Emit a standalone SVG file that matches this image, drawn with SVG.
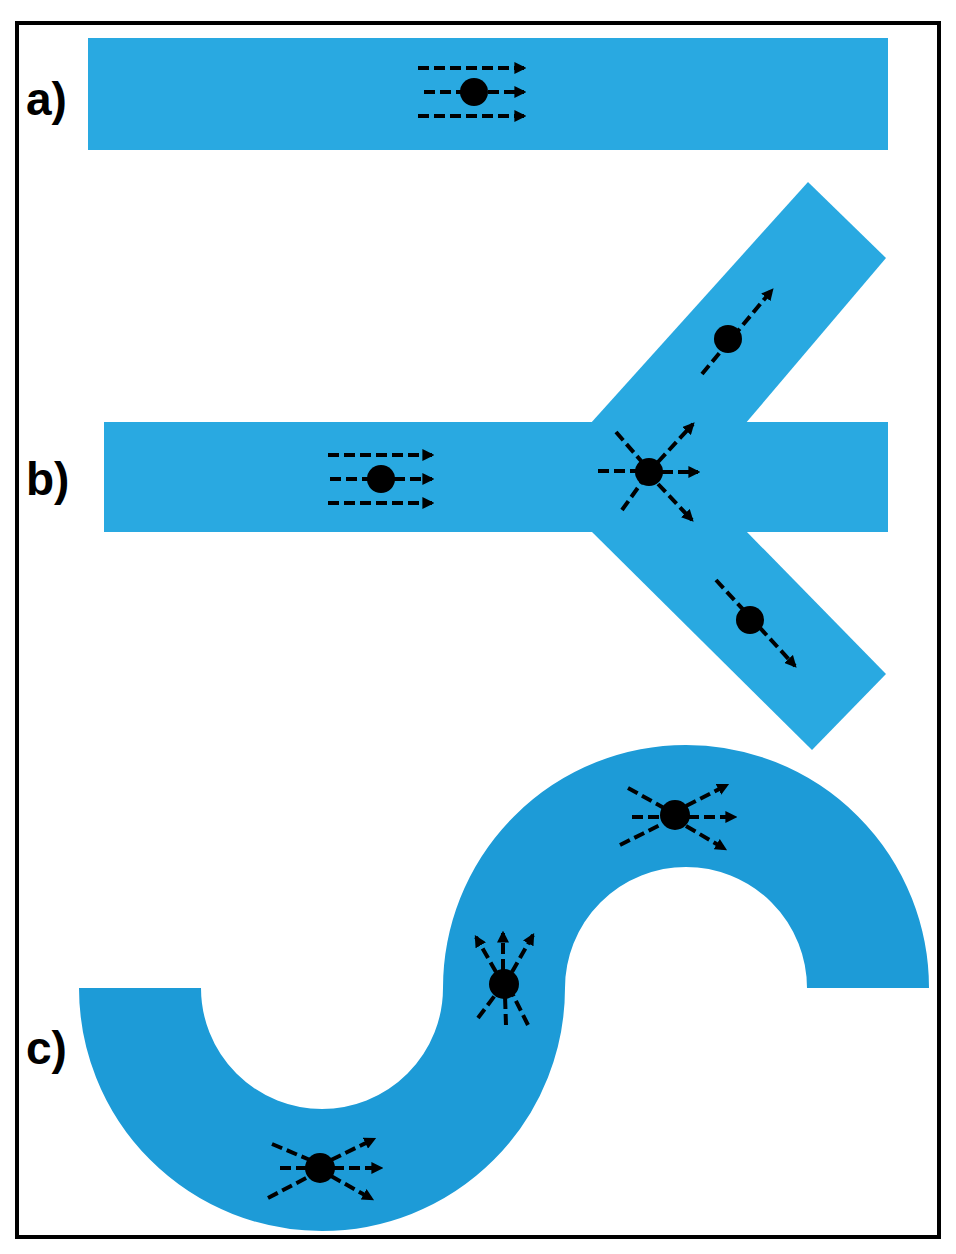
<svg xmlns="http://www.w3.org/2000/svg" width="956" height="1254" viewBox="0 0 956 1254">
<defs>
<marker id="ah" viewBox="0 0 10 10" refX="8" refY="5" markerWidth="3" markerHeight="3" orient="auto" markerUnits="strokeWidth"><path d="M0,0 L10,5 L0,10 z" fill="#000"/></marker>
<style>
.ch{fill:#29a9e1}
.d{stroke:#000;stroke-width:4;stroke-dasharray:11 5;fill:none}
.a{marker-end:url(#ah)}
.lbl{font-family:"Liberation Sans",Arial,sans-serif;font-weight:bold;font-size:46px;fill:#000}
</style>
</defs>
<rect width="956" height="1254" fill="#fff"/>
<rect x="17" y="23" width="922" height="1214" fill="none" stroke="#000" stroke-width="4"/>
<text class="lbl" x="26" y="115">a)</text>
<text class="lbl" x="26" y="495">b)</text>
<text class="lbl" x="26" y="1064">c)</text>
<g id="channel-a"><rect class="ch" x="88" y="38" width="800" height="112"/></g>
<g id="channel-b">
<rect class="ch" x="104" y="422" width="784" height="110"/>
<polygon class="ch" points="590,424 808,182 886,258 745,424"/>
<polygon class="ch" points="590,530 812,750 886,674 745,530"/>
</g>
<g id="channel-c"><path d="M140,988 A182,182 0 0 0 504,988 A182,182 0 0 1 868,988" fill="none" stroke="#1d9bd7" stroke-width="122"/></g>
<g id="particles">
<circle cx="474" cy="92" r="14"/>
<line class="d a" x1="418" y1="68" x2="524" y2="68"/>
<line class="d a" x1="424" y1="92" x2="524" y2="92"/>
<line class="d a" x1="418" y1="116" x2="524" y2="116"/>
<circle cx="381" cy="479" r="14"/>
<line class="d a" x1="328" y1="455" x2="432" y2="455"/>
<line class="d a" x1="330" y1="479" x2="432" y2="479"/>
<line class="d a" x1="328" y1="503" x2="432" y2="503"/>
<circle cx="649" cy="472" r="14"/>
<line class="d" x1="598" y1="471" x2="640" y2="471"/>
<line class="d" x1="616" y1="432" x2="642" y2="462"/>
<line class="d" x1="622" y1="510" x2="642" y2="482"/>
<line class="d a" x1="658" y1="462" x2="693" y2="424"/>
<line class="d a" x1="662" y1="472" x2="698" y2="472"/>
<line class="d a" x1="658" y1="484" x2="692" y2="520"/>
<circle cx="728" cy="339" r="14"/>
<line class="d a" x1="702" y1="374" x2="772" y2="290"/>
<circle cx="750" cy="620" r="14"/>
<line class="d a" x1="716" y1="580" x2="795" y2="666"/>
<circle cx="675" cy="815" r="15"/>
<line class="d" x1="628" y1="788" x2="664" y2="808"/>
<line class="d" x1="632" y1="817" x2="662" y2="817"/>
<line class="d" x1="620" y1="845" x2="662" y2="824"/>
<line class="d a" x1="686" y1="806" x2="727" y2="785"/>
<line class="d a" x1="688" y1="817" x2="735" y2="817"/>
<line class="d a" x1="686" y1="826" x2="725" y2="849"/>
<circle cx="504" cy="984" r="15"/>
<line class="d" x1="478" y1="1018" x2="496" y2="994"/>
<line class="d" x1="506" y1="1025" x2="505" y2="996"/>
<line class="d" x1="528" y1="1025" x2="513" y2="995"/>
<line class="d a" x1="496" y1="972" x2="476" y2="937"/>
<line class="d a" x1="503" y1="970" x2="503" y2="933"/>
<line class="d a" x1="512" y1="972" x2="533" y2="935"/>
<circle cx="320" cy="1168" r="15"/>
<line class="d" x1="272" y1="1144" x2="310" y2="1160"/>
<line class="d" x1="280" y1="1168" x2="308" y2="1168"/>
<line class="d" x1="268" y1="1198" x2="310" y2="1176"/>
<line class="d a" x1="331" y1="1160" x2="374" y2="1139"/>
<line class="d a" x1="333" y1="1168" x2="381" y2="1168"/>
<line class="d a" x1="331" y1="1176" x2="372" y2="1199"/>
</g>
</svg>
